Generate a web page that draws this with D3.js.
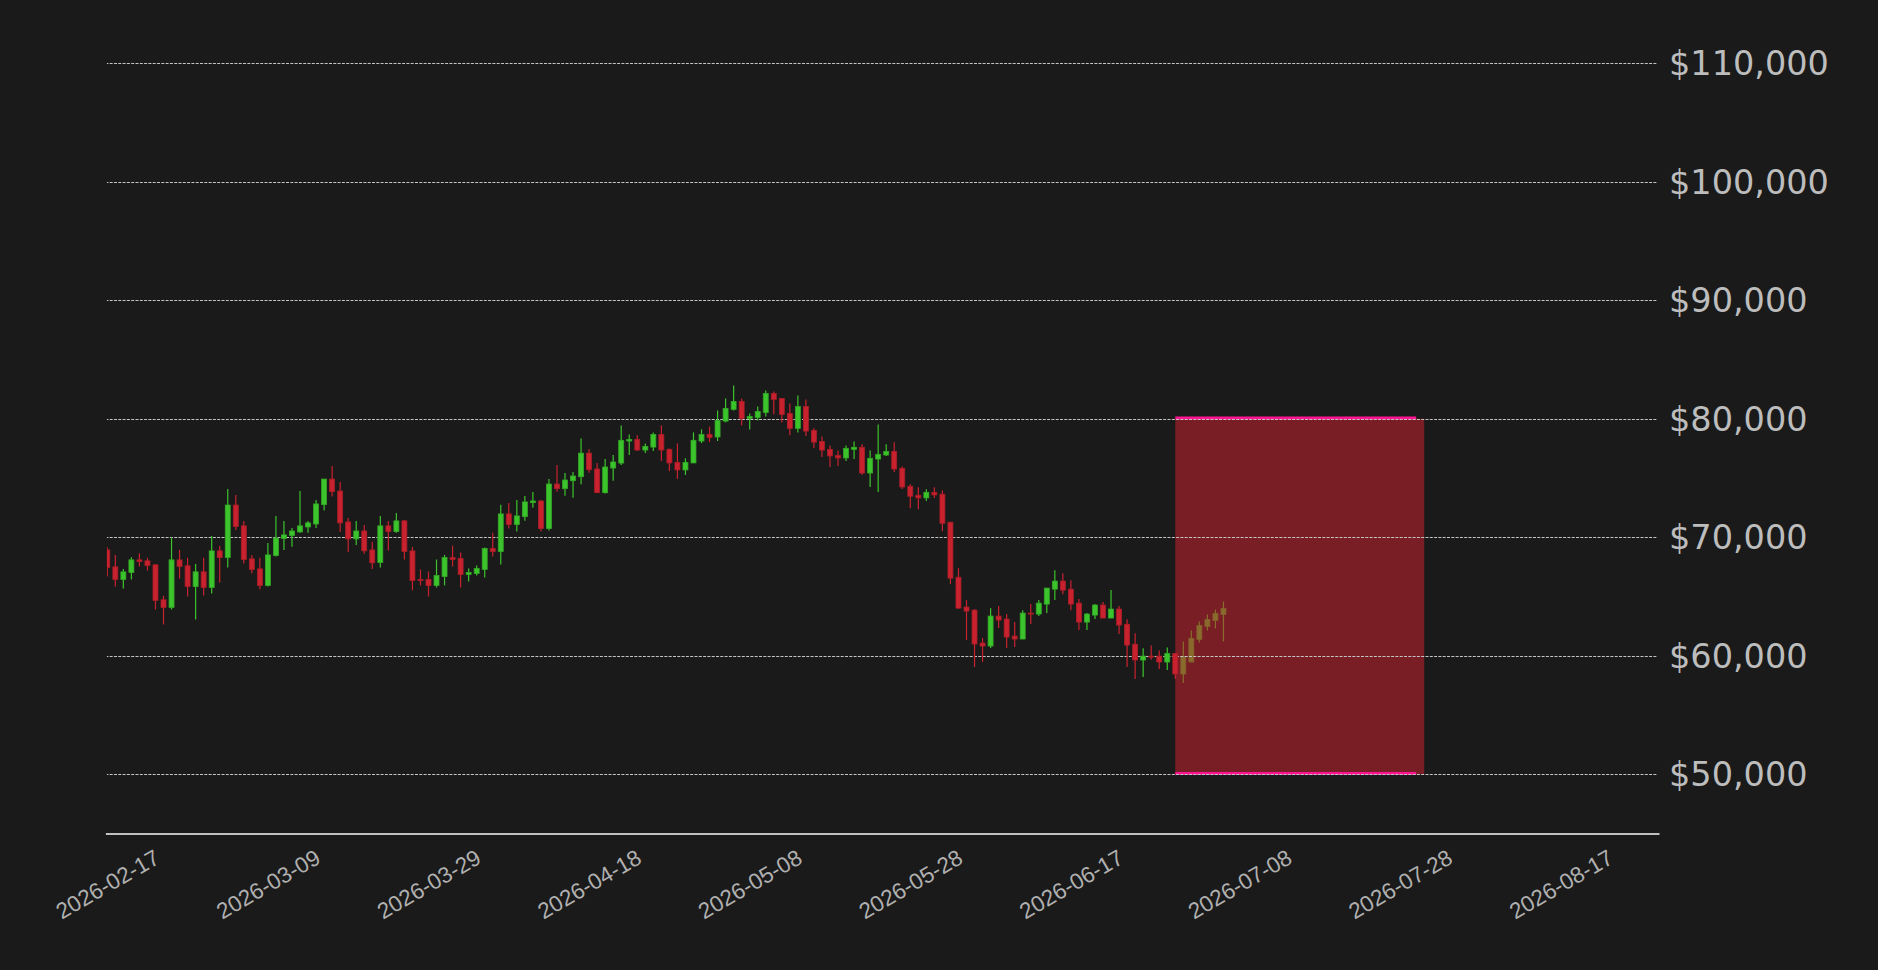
<!DOCTYPE html>
<html>
<head>
<meta charset="utf-8">
<script src="https://cdn.jsdelivr.net/npm/d3@7"></script>
<style>
  html, body { margin: 0; padding: 0; background: #1a1a1a; }
  svg { display: block; }
</style>
</head>
<body>
<div id="chart"></div>
<script>
  // Daily candles, one per day starting on FIRST_DAY.
  var FIRST_DAY = '2026-02-17';

  var OPEN = [
    68930, 67500, 66430, 67020, 68090, 68010, 67670, 64720, 64080, 68090,
    67590, 65840, 67080, 65760, 68850, 68290, 72720, 70960, 68180, 67330,
    65930, 68460, 69890, 70140, 70450, 70870, 71120, 72750, 74910, 73900,
    71290, 69860, 70530, 68930, 67870, 70960, 70480, 71380, 68850, 66430,
    66430, 65930, 66690, 68290, 68200, 66860, 66940, 67280, 69050, 68790,
    71970, 71070, 71740, 72920, 73060, 70730, 74490, 74100, 74770, 75110,
    77100, 75760, 73760, 75840, 76260, 78120, 78260, 77360, 77610, 78680,
    77420, 76320, 75680, 76270, 78120, 78680, 78460, 79800, 80790, 81460,
    80030, 80110, 80530, 82130, 81710, 80450, 79190, 81040, 79020, 78090,
    77420, 76910, 76690, 77420, 77590, 75420, 76600, 76940, 77250, 75820,
    74300, 73540, 73320, 73790, 73630, 71270, 66630, 64110, 63850, 61070,
    60820, 63350, 63100, 61660, 61410, 63600, 63520, 64360, 65620, 66300,
    65620, 64440, 62840, 63430, 64280, 63180, 63940, 62660, 60970, 59640,
    59970, 59970, 59470, 60200, 58460, 59470, 61380, 62470, 62980, 63480
  ];
  var HIGH = [
    69160, 68510, 67330, 68320, 68650, 68260, 67730, 65060, 70000, 68930,
    68260, 67750, 68260, 70110, 69270, 74070, 73570, 71380, 68510, 68260,
    69520, 71800, 71380, 70790, 73900, 71380, 73150, 74920, 76010, 74660,
    71630, 71380, 71040, 69610, 71800, 71380, 72050, 71460, 69190, 67280,
    67110, 68120, 68510, 69300, 68710, 67360, 67610, 69130, 70390, 72750,
    72890, 73150, 73480, 73820, 73150, 74910, 76090, 75420, 75500, 78340,
    77440, 76260, 76600, 76940, 79440, 78680, 78600, 77920, 78850, 79440,
    77500, 77920, 76660, 78850, 79100, 79350, 80700, 81710, 82810, 81710,
    80450, 81040, 82390, 82300, 81710, 81290, 81970, 81630, 79190, 78510,
    77750, 77330, 77750, 78090, 77840, 77330, 79520, 77840, 78010, 75980,
    74470, 74220, 74050, 74220, 73960, 71270, 67390, 64700, 63940, 61500,
    64020, 64190, 63520, 62840, 63850, 64360, 64700, 65710, 67220, 66970,
    66380, 64780, 63600, 64360, 64530, 65540, 64190, 63080, 61900, 60630,
    60870, 60450, 60700, 60200, 61210, 62130, 62890, 63480, 63900, 64580
  ];
  var LOW = [
    66690, 65840, 65680, 66430, 67530, 67190, 63910, 62640, 63910, 66520,
    65000, 63060, 65090, 65250, 66180, 67450, 70620, 67780, 66940, 65590,
    65840, 68370, 68930, 69190, 70390, 70370, 70790, 72250, 73430, 70450,
    68760, 69350, 68600, 67330, 67450, 68880, 70390, 68120, 65510, 65930,
    65000, 65760, 65930, 67530, 65760, 66270, 66770, 66600, 68370, 67700,
    70730, 70480, 71400, 72500, 70480, 70560, 73850, 73510, 73340, 74470,
    75450, 73740, 73700, 74770, 76100, 76940, 77280, 77110, 77280, 76430,
    75590, 74920, 75250, 76270, 77950, 78030, 78120, 79700, 80700, 79440,
    79100, 79860, 80200, 80370, 79690, 78600, 78850, 78540, 77530, 76770,
    75930, 76010, 76430, 76600, 75250, 74240, 73820, 76860, 75510, 74080,
    72450, 72360, 73060, 73320, 70510, 66040, 63940, 61330, 59050, 59470,
    60650, 62340, 60650, 60740, 61410, 62680, 63350, 63600, 64700, 65200,
    63850, 62170, 62170, 63100, 63180, 63180, 61830, 59050, 58030, 58200,
    59690, 58880, 58790, 58030, 57700, 59470, 61120, 62130, 62300, 61210
  ];
  var CLOSE = [
    67450, 66430, 67080, 68090, 67950, 67610, 64670, 64080, 68090, 67530,
    65840, 67080, 65760, 68850, 68290, 72720, 70900, 68120, 67280, 65930,
    68510, 69940, 70200, 70530, 70960, 71210, 72810, 74910, 73850, 71210,
    69860, 70530, 68850, 67840, 70960, 70480, 71380, 68790, 66350, 66350,
    65930, 66770, 68290, 68120, 66860, 67020, 67360, 69050, 68790, 71970,
    71070, 71800, 72980, 73060, 70730, 74490, 74100, 74830, 75170, 77100,
    75700, 73760, 75930, 76350, 78180, 78260, 77360, 77670, 78680, 77360,
    76270, 75680, 76320, 78180, 78680, 78430, 79860, 80870, 81460, 80030,
    80200, 80620, 82130, 81630, 80370, 79190, 81040, 78960, 78030, 77360,
    76860, 76690, 77500, 77590, 75420, 76660, 77000, 77250, 75760, 74240,
    73460, 73320, 73790, 73570, 71180, 66550, 64020, 63770, 60990, 60820,
    63350, 63010, 61580, 61410, 63600, 63520, 64440, 65710, 66300, 65540,
    64360, 62840, 63520, 64280, 63180, 63940, 62590, 60900, 59640, 59970,
    59890, 59470, 60200, 58460, 59940, 61460, 62560, 63060, 63570, 63990
  ];

  var PRICE_TICKS = [50000, 60000, 70000, 80000, 90000, 100000, 110000];
  var DATE_TICKS = ['2026-02-17', '2026-03-09', '2026-03-29', '2026-04-18',
    '2026-05-08', '2026-05-28', '2026-06-17', '2026-07-08', '2026-07-28',
    '2026-08-17'];

  // Shaded target zone.
  var ZONE_START = '2026-06-30';
  var ZONE_END = '2026-07-31';
  var ZONE_LINE_END = '2026-07-30';
  var ZONE_LOW = 50000;
  var ZONE_HIGH = 80000;

  // Axis extents.
  var X_DOMAIN = ['2026-02-16T18:20:00Z', '2026-08-29T05:45:00Z'];
  var Y_DOMAIN = [45000, 115000];

  // Component dimensions.
  var WIDTH = 1878;
  var HEIGHT = 970;
  var PLOT_LEFT = 105.4;
  var PLOT_RIGHT = 1659;
  var PLOT_TOP = 4;
  var PLOT_BOTTOM = 833.5;

  // Candle body width, in days.
  var BODY_DAYS = 0.62;

  // Palette.
  var BG = '#1a1a1a';
  var UP = '#3cc42c';
  var UP_EDGE = '#33a826';
  var DOWN = '#c9222f';
  var DOWN_EDGE = '#aa1d28';
  var ZONE_LINE = '#ff1493';
  var GRID = '#c4c4c4';
  var TEXT = '#bdbdbd';

  var parseDay = d3.utcParse('%Y-%m-%d');

  function makeCandles() {
    var start = parseDay(FIRST_DAY);
    return OPEN.map(function(o, i) {
      return {
        date: d3.utcDay.offset(start, i),
        open: o, high: HIGH[i], low: LOW[i], close: CLOSE[i]
      };
    });
  }

  function drawCandles(g, items, x, y) {
    var half = BODY_DAYS / 2 * 864e5;
    var candle = g.selectAll('.candle')
      .data(items)
    .enter().append('g')
      .attr('class', 'candle');
    candle.append('line')
      .attr('x1', function(d) {return x(d.date);})
      .attr('x2', function(d) {return x(d.date);})
      .attr('y1', function(d) {return y(d.high);})
      .attr('y2', function(d) {return y(d.low);})
      .attr('stroke', function(d) {return d.close >= d.open ? UP : DOWN;})
      .attr('stroke-width', 1.2);
    candle.append('rect')
      .attr('x', function(d) {return x(new Date(+d.date - half));})
      .attr('width', function(d) {
        return x(new Date(+d.date + half)) - x(new Date(+d.date - half));
      })
      .attr('y', function(d) {return y(Math.max(d.open, d.close));})
      .attr('height', function(d) {
        return Math.max(1, Math.abs(y(d.open) - y(d.close)));
      })
      .attr('fill', function(d) {return d.close >= d.open ? UP : DOWN;})
      .attr('stroke', function(d) {return d.close >= d.open ? UP_EDGE : DOWN_EDGE;})
      .attr('stroke-width', 0.8);
  }

  function main() {
    var candles = makeCandles();
    var zoneStart = parseDay(ZONE_START);

    var x = d3.scaleUtc()
      .domain(X_DOMAIN.map(function(s) {return new Date(s);}))
      .range([PLOT_LEFT, PLOT_RIGHT]);
    var y = d3.scaleLinear().domain(Y_DOMAIN).range([PLOT_BOTTOM, PLOT_TOP]);

    var svg = d3.select('#chart').append('svg')
      .attr('width', WIDTH)
      .attr('height', HEIGHT)
      .style('background', BG);

    svg.append('defs').append('clipPath').attr('id', 'plot-clip')
      .append('rect')
      .attr('x', PLOT_LEFT + 1.5).attr('y', PLOT_TOP)
      .attr('width', PLOT_RIGHT - PLOT_LEFT - 1.5)
      .attr('height', PLOT_BOTTOM - PLOT_TOP);

    var plot = svg.append('g').attr('clip-path', 'url(#plot-clip)');

    // Candles inside the zone sit under the shading.
    drawCandles(plot.append('g'), candles.filter(function(d) {
      return d.date > zoneStart;
    }), x, y);

    plot.append('rect')
      .attr('x', x(zoneStart))
      .attr('width', x(parseDay(ZONE_END)) - x(zoneStart))
      .attr('y', y(ZONE_HIGH))
      .attr('height', y(ZONE_LOW) - y(ZONE_HIGH))
      .attr('fill', DOWN)
      .attr('fill-opacity', 0.55);

    plot.selectAll('.zone-line')
      .data([ZONE_LOW, ZONE_HIGH])
    .enter().append('line')
      .attr('class', 'zone-line')
      .attr('x1', x(zoneStart))
      .attr('x2', x(parseDay(ZONE_LINE_END)))
      .attr('y1', function(d) {return y(d) - 0.7;})
      .attr('y2', function(d) {return y(d) - 0.7;})
      .attr('stroke', ZONE_LINE)
      .attr('stroke-width', 3);

    // Dashed horizontal grid.
    plot.selectAll('.grid')
      .data(PRICE_TICKS)
    .enter().append('line')
      .attr('class', 'grid')
      .attr('x1', PLOT_LEFT)
      .attr('x2', PLOT_RIGHT - 2)
      .attr('y1', function(d) {return Math.round(y(d)) + 0.5;})
      .attr('y2', function(d) {return Math.round(y(d)) + 0.5;})
      .attr('stroke', GRID)
      .attr('stroke-width', 1)
      .attr('stroke-dasharray', '3,1.3');

    drawCandles(plot.append('g'), candles.filter(function(d) {
      return d.date <= zoneStart;
    }), x, y);

    // Price labels on the right.
    var fmt = d3.format('$,');
    svg.append('g').selectAll('text')
      .data(PRICE_TICKS)
    .enter().append('text')
      .attr('x', PLOT_RIGHT + 10)
      .attr('y', function(d) {return y(d);})
      .attr('dy', '0.36em')
      .attr('fill', TEXT)
      .style('font-family', '"DejaVu Sans", sans-serif')
      .style('font-size', '33.5px')
      .text(function(d) {return fmt(d);});

    // Bottom axis: a plain line and slanted date labels.
    var axis = d3.axisBottom(x)
      .tickValues(DATE_TICKS.map(parseDay))
      .tickSize(0)
      .tickFormat(d3.utcFormat('%Y-%m-%d'));
    var ax = svg.append('g')
      .attr('class', 'x-axis')
      .attr('transform', 'translate(0,' + PLOT_BOTTOM + ')')
      .call(axis);
    ax.select('.domain')
      .attr('stroke', '#c0c0c0')
      .attr('stroke-width', 2.2);
    ax.selectAll('.tick text')
      .attr('fill', '#b0b0b0')
      .attr('y', 0)
      .attr('dy', 0)
      .style('font-family', '"Liberation Sans", Arial, sans-serif')
      .style('font-size', '22.5px')
      .attr('text-anchor', 'middle')
      .attr('dominant-baseline', 'central')
      .attr('transform', 'translate(0,51) rotate(-30)');
  }

  main();
</script>
</body>
</html>
